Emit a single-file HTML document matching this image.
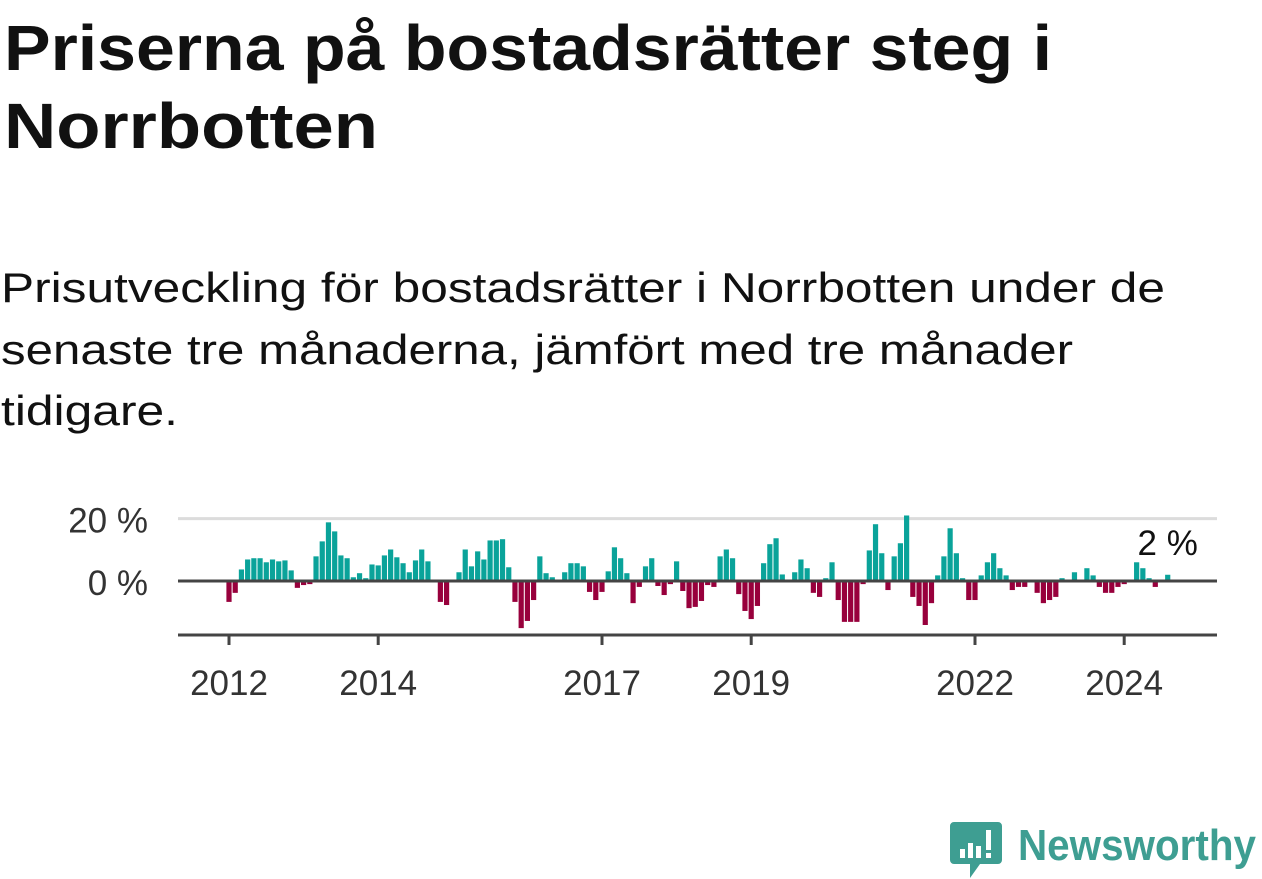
<!DOCTYPE html>
<html><head><meta charset="utf-8">
<style>
html,body{margin:0;padding:0;background:#fff;width:1262px;height:879px;overflow:hidden}
svg{display:block}
text{font-family:"Liberation Sans",sans-serif}
</style></head>
<body>
<svg width="1262" height="879" viewBox="0 0 1262 879">
<text x="4" y="70" font-size="64" font-weight="bold" fill="#111" textLength="1048" lengthAdjust="spacingAndGlyphs">Priserna på bostadsrätter steg i</text>
<text x="4" y="148" font-size="64" font-weight="bold" fill="#111" textLength="374" lengthAdjust="spacingAndGlyphs">Norrbotten</text>
<text x="1" y="302" font-size="42" fill="#111" textLength="1164" lengthAdjust="spacingAndGlyphs">Prisutveckling för bostadsrätter i Norrbotten under de</text>
<text x="1" y="364" font-size="42" fill="#111" textLength="1072" lengthAdjust="spacingAndGlyphs">senaste tre månaderna, jämfört med tre månader</text>
<text x="1" y="425" font-size="42" fill="#111" textLength="177" lengthAdjust="spacingAndGlyphs">tidigare.</text>
<g id="plot"></g>
<g>
<path d="M954 822 h44 a4 4 0 0 1 4 4 v34 a4 4 0 0 1 -4 4 h-18 l-10 14 v-14 h-16 a4 4 0 0 1 -4 -4 v-34 a4 4 0 0 1 4 -4z" fill="#3e9e92"/>
<rect x="960" y="849" width="5" height="9" fill="#fff"/><rect x="968" y="843" width="5" height="15" fill="#fff"/><rect x="976" y="846" width="5" height="12" fill="#fff"/><rect x="986" y="830" width="5" height="20" fill="#fff"/><rect x="986" y="853" width="5" height="5" fill="#fff"/>
<text x="1018" y="860" font-size="44" font-weight="bold" fill="#3e9e92" textLength="238" lengthAdjust="spacingAndGlyphs">Newsworthy</text>
</g>
</svg>
<script>
const startYear = 2012;
const values = [
-6.7,-3.8,3.7,6.9,7.3,7.3,6.0,6.9,6.3,6.6,3.4,-2.2,
-1.3,-1.0,7.9,12.7,18.8,15.9,8.2,7.3,1.2,2.5,0.9,5.3,
5.0,8.2,10.1,7.6,5.7,2.8,6.6,10.1,6.3,0,-6.7,-7.7,
0,2.8,10.1,4.7,9.5,6.9,13.0,13.0,13.4,4.4,-6.7,-15.1,
-12.8,-6.1,7.9,2.5,1.2,0,2.8,5.7,5.7,4.7,-3.5,-6.1,
-3.5,3.1,10.8,7.3,2.5,-7.1,-1.9,4.7,7.3,-1.6,-4.5,-1.0,
6.3,-3.2,-8.7,-8.3,-6.4,-1.3,-1.9,7.9,10.1,7.3,-4.2,-9.6,
-12.2,-8.0,5.7,11.8,13.7,2.1,0,2.8,6.9,4.1,-3.8,-5.1,
0.9,6.0,-6.1,-13.1,-13.1,-13.1,-1.0,9.8,18.2,8.9,-2.9,7.9,
12.1,21.0,-5.1,-8.0,-14.1,-7.1,1.8,7.9,16.9,8.9,0.9,-6.1,
-6.1,1.8,6.0,8.9,4.1,1.8,-2.9,-1.9,-1.9,0,-3.8,-7.1,
-6.1,-5.1,0.9,0,2.8,0,4.1,1.8,-1.9,-3.8,-3.8,-1.9,
-1.0,0,6.0,4.1,0.9,-1.9,0,2
];
const yTicks = [0, 20];
const yTickLabels = ["0 %", "20 %"];
const xTickYears = [2012, 2014, 2017, 2019, 2022, 2024];
const lastLabel = "2 %";

const NS = "http://www.w3.org/2000/svg";
const g = document.getElementById("plot");
const x0 = 229, monthW = 74.6/12;
const xScale = i => x0 + i*monthW;
const yScale = v => 581 - v*3.12;
function el(tag, attrs){const e=document.createElementNS(NS,tag);for(const k in attrs)e.setAttribute(k,attrs[k]);g.appendChild(e);return e;}

yTicks.forEach((t,i)=>{
  if(t!==0){
    const l=el("line",{x1:178,x2:1217,y1:yScale(t),y2:yScale(t),stroke:"#dcdcdc","stroke-width":3});
    
    
  }
  const tx=el("text",{x:148,y:yScale(t)+14,"text-anchor":"end","font-size":35,fill:"#333"});
  tx.textContent=yTickLabels[i];
  
  
});
values.forEach((v,i)=>{
  const cx=xScale(i), y=yScale(Math.max(v,0)), h=Math.abs(yScale(v)-yScale(0));
  const r=el("rect",{x:cx-2.6,y:y,width:5.2,height:h,fill:v>=0?"#0aa39a":"#98003c"});
  
  
});
const z=el("line",{x1:178,x2:1217,y1:yScale(0),y2:yScale(0),stroke:"#444","stroke-width":3});


const ax=el("line",{x1:178,x2:1217,y1:635,y2:635,stroke:"#444","stroke-width":3});


xTickYears.forEach(yr=>{
  const x=xScale((yr-startYear)*12);
  const t=el("line",{x1:x,x2:x,y1:635,y2:645,stroke:"#444","stroke-width":3});
  
  
  const tx=el("text",{x:x,y:695,"text-anchor":"middle","font-size":35,fill:"#333"});
  tx.textContent=String(yr);
  
  
});
const li=values.length-1;
const lab=el("text",{x:xScale(li),y:Math.min(yScale(values[li]),581)-20,"text-anchor":"middle","font-size":35,fill:"#111"});
lab.textContent=lastLabel;


</script>
</body></html>
